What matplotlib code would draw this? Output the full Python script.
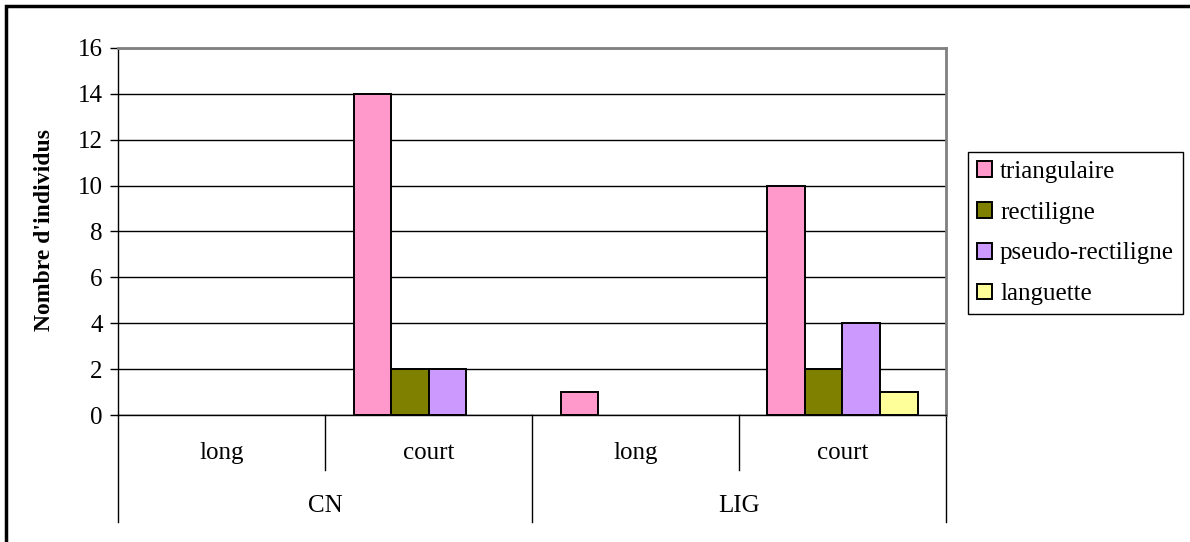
import matplotlib
matplotlib.use('Agg')
import matplotlib.pyplot as plt
import matplotlib.transforms as mtransforms
from matplotlib.patches import Rectangle

plt.rcParams['font.family'] = 'Liberation Serif'

sub_labels = ['long', 'court', 'long', 'court']
group_labels = ['CN', 'LIG']
series = ['triangulaire', 'rectiligne', 'pseudo-rectiligne', 'languette']
triangulaire = [0, 14, 1, 10]
rectiligne = [0, 2, 0, 2]
pseudo_rectiligne = [0, 2, 0, 4]
languette = [0, 0, 0, 1]
values = [triangulaire, rectiligne, pseudo_rectiligne, languette]
colors = ['#FF99CC', '#808000', '#CC99FF', '#FFFF99']

W, H = 1190, 542
FS = 18
fig = plt.figure(figsize=(W / 100, H / 100), dpi=100)
ax = fig.add_axes([118 / W, (H - 415) / H, 828 / W, 367 / H])

w = 37.5 / 207
handles = []
for i, (name, vals, c) in enumerate(zip(series, values, colors)):
    xs = [k + (i - 1.5) * w for k, v in enumerate(vals) if v > 0]
    hs = [v for v in vals if v > 0]
    ax.bar(xs, hs, width=w, color=c, edgecolor='black', linewidth=1.4, zorder=3)
    handles.append(Rectangle((0, 0), 1, 1, facecolor=c, edgecolor='black', linewidth=1.4))

ax.set_xlim(-0.5, 3.5)
ax.set_ylim(0, 16)
ax.set_yticks(range(0, 17, 2))
ax.yaxis.grid(True, color='black', linewidth=1, zorder=0)
ax.set_axisbelow(True)
ax.set_xticks([])
ax.tick_params(axis='y', direction='out', length=6, width=1, labelsize=FS, pad=5)
for s in ['top', 'right']:
    ax.spines[s].set_color('#808080')
    ax.spines[s].set_linewidth(2)
for s in ['left', 'bottom']:
    ax.spines[s].set_color('black')
    ax.spines[s].set_linewidth(1)

# multi-level category axis
tr = mtransforms.blended_transform_factory(ax.transData, ax.transAxes)
short = -55 / 367
long_ = -107 / 367
for x, d in zip([-0.5, 0.5, 1.5, 2.5, 3.5], [long_, short, long_, short, long_]):
    ax.plot([x, x], [0, d], color='black', linewidth=1, transform=tr, clip_on=False)
for k, lab in enumerate(sub_labels):
    ax.text(k, -38 / 367, lab, transform=tr, ha='center', va='center', fontsize=FS)
for g, lab in enumerate(group_labels):
    ax.text(2 * g + 0.5, -91 / 367, lab, transform=tr, ha='center', va='center', fontsize=FS)

fig.text(45 / W, (H - 230) / H, "Nombre d'individus", rotation=90, ha='center', va='center',
         fontsize=17, fontweight='bold')

leg = fig.legend(handles, series, loc='upper left', bbox_to_anchor=(968 / W, 1 - 152 / H),
                 borderaxespad=0, fancybox=False, edgecolor='black', fontsize=FS,
                 handlelength=0.6, handleheight=0.6, handletextpad=0.32, labelspacing=0.75,
                 borderpad=0.36, framealpha=1)
leg.get_frame().set_linewidth(1)

# outer chart border
fig.patches.append(Rectangle((6 / W, -0.1), 1.2, 1 - 6 / H + 0.1, transform=fig.transFigure,
                             fill=False, edgecolor='black', linewidth=2.5))

fig.savefig('out.png', dpi=100)
